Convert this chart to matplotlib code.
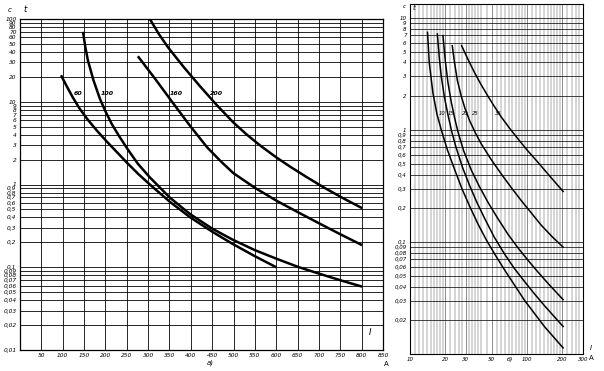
import numpy as np
import matplotlib
matplotlib.use("Agg")
import matplotlib.pyplot as plt
from matplotlib.ticker import NullLocator, NullFormatter

# --- chart a): linear current axis (A), log time axis (s) ---
cur_a_60 = [96, 110, 124, 140, 159, 180, 204, 228, 251, 277, 304, 351, 398, 450, 499, 550, 600]
t_a_60 = [20.9, 15.2, 11.2, 8.2, 6.04, 4.48, 3.27, 2.43, 1.82, 1.34, 1.0, 0.617, 0.403,
          0.269, 0.19, 0.136, 0.10]

cur_a_100 = [147.5, 153, 159, 172, 187, 200, 215, 232, 251, 276, 304, 351, 398, 450, 499,
             550, 600, 651, 700, 752, 801]
t_a_100 = [70, 45.7, 31.6, 18.2, 10.9, 7.67, 5.37, 3.85, 2.72, 1.78, 1.22, 0.693, 0.44,
           0.293, 0.214, 0.161, 0.127, 0.101, 0.0838, 0.0692, 0.0583]

cur_a_160 = [276, 316, 356, 398, 438, 470, 499, 550, 602, 651, 695, 749, 801]
t_a_160 = [35.5, 19.05, 10.0, 5.13, 2.82, 1.91, 1.38, 0.912, 0.631, 0.462, 0.351, 0.252, 0.185]

cur_a_200 = [304, 325, 347, 384, 421, 460, 499, 530, 562, 600, 632, 670, 710, 755, 801]
t_a_200 = [100, 66, 45.2, 26.0, 15.5, 9.2, 5.66, 4.05, 2.97, 2.13, 1.65, 1.24, 0.93, 0.69, 0.518]

curves_a = [(cur_a_60, t_a_60), (cur_a_100, t_a_100), (cur_a_160, t_a_160), (cur_a_200, t_a_200)]
names_a = ["60", "100", "160", "200"]
label_x_a = [135, 205, 365, 460]

xticks_a = list(range(0, 851, 50))

# --- chart б): log current axis (A), log time axis (s) ---
cur_b1 = [14.1, 14.6, 15.7, 17.0, 18.5, 20.9, 24.1, 27.9, 32.4, 38.0, 44.9, 53.7, 64.4,
          95.3, 141, 205]
t_b1 = [7.55, 3.98, 2.13, 1.38, 1.0, 0.66, 0.44, 0.295, 0.207, 0.145, 0.104, 0.0759, 0.056,
        0.030, 0.0175, 0.0112]

cur_b2 = [17.1, 17.8, 18.5, 19.7, 21.1, 22.9, 24.8, 28.2, 32.4, 37.2, 43.4, 52.5, 64.4,
          77.6, 95.3, 114.8, 141, 205]
t_b2 = [7.3, 4.37, 2.99, 1.95, 1.36, 0.933, 0.692, 0.457, 0.316, 0.226, 0.162, 0.11, 0.0776,
        0.0582, 0.0442, 0.0347, 0.0269, 0.0174]

cur_b3 = [19.1, 20.0, 21.1, 22.5, 24.0, 25.7, 28.8, 33.4, 38.9, 46.3, 56.2, 68.7, 83.2,
          101.9, 123, 150.7, 205]
t_b3 = [7.05, 4.17, 2.63, 1.78, 1.29, 0.955, 0.646, 0.437, 0.316, 0.226, 0.162, 0.117,
        0.0891, 0.0684, 0.0543, 0.0427, 0.0302]

cur_b4 = [22.9, 24.0, 25.4, 27.4, 29.5, 32.4, 36.3, 40.6, 49.0, 60.3, 73.3, 89.1, 108.4,
          132.1, 164.1, 205]
t_b4 = [5.74, 3.98, 2.75, 2.0, 1.55, 1.2, 0.933, 0.75, 0.55, 0.403, 0.305, 0.234, 0.182,
        0.141, 0.111, 0.0891]

cur_b5 = [27.4, 30.9, 35.6, 40.7, 46.3, 52.5, 60.3, 70.8, 83.6, 100, 123.9, 158.5, 205]
t_b5 = [5.74, 4.37, 3.24, 2.51, 2.0, 1.62, 1.30, 1.035, 0.832, 0.661, 0.513, 0.38, 0.279]

curves_b = [(cur_b1, t_b1), (cur_b2, t_b2), (cur_b3, t_b3), (cur_b4, t_b4), (cur_b5, t_b5)]
names_b = ["10", "15", "20", "25", "35"]
label_x_b = [18.8, 22.6, 29.7, 36.1, 57]

xticks_b = [10, 20, 30, 50, 100, 200, 300]


def comma(v):
    return f"{v:g}".replace(".", ",")


plt.rcParams["font.family"] = ["DejaVu Sans"]
plt.rcParams["font.style"] = "italic"

W, H = 604, 371
fig = plt.figure(figsize=(W / 100, H / 100), dpi=100)
fig.patch.set_facecolor("white")


def px_axes(l, t, r, b):
    return fig.add_axes([l / W, 1 - b / H, (r - l) / W, (b - t) / H])


def ftext(x, y, s, **kw):
    fig.text(x / W, 1 - y / H, s, ha="center", va="center", **kw)


yvals = [k * 10.0 ** d for d in range(-2, 2) for k in range(1, 10)] + [100]

# chart a)
ax1 = px_axes(20, 19, 383, 350)
ax1.set_xlim(0, 850)
ax1.set_yscale("log")
ax1.set_ylim(0.01, 100)
ax1.set_xticks(xticks_a)
ax1.set_xticklabels([""] + [str(v) for v in xticks_a[1:]])
ax1.set_yticks(yvals)
ax1.set_yticklabels([comma(v) for v in yvals])
ax1.yaxis.set_minor_locator(NullLocator())
ax1.grid(True, color="k", lw=0.7, alpha=0.85)
ax1.tick_params(length=0, labelsize=4.2, pad=2.5)
for s in ax1.spines.values():
    s.set_linewidth(0.9)

for (x, y) in curves_a:
    ax1.plot(x, y, color="k", lw=1.8, solid_capstyle="butt", solid_joinstyle="round")
for name, lx in zip(names_a, label_x_a):
    ax1.text(lx, 11.8, name, fontsize=4.5, fontweight="bold", ha="center", va="bottom")

ax1.text(820, 0.0165, "I", fontsize=6, ha="center", va="center")
ftext(10, 10, "c", fontsize=5)
ftext(25, 10, "t", fontsize=6)
ftext(210, 363, "а)", fontsize=5)
ftext(386, 364, "A", fontsize=5, style="normal")

# chart б)
ax2 = px_axes(410, 4, 583, 354)
ax2.set_xscale("log")
ax2.set_yscale("log")
ax2.set_xlim(10, 300)
ax2.set_ylim(0.01, 13.3)
ax2.set_xticks(xticks_b)
ax2.set_xticklabels([str(v) for v in xticks_b])
fine = np.concatenate([np.arange(10, 20, 1), np.arange(20, 40, 2), np.arange(40, 100, 5),
                       np.arange(100, 200, 10), np.arange(200, 301, 20)])
ax2.set_xticks(fine, minor=True)
ax2.xaxis.set_minor_formatter(NullFormatter())
yv2 = [v for v in yvals if v <= 10]
ax2.set_yticks(yv2)
ax2.set_yticklabels([""] + [comma(v) for v in yv2[1:]])
ax2.yaxis.set_minor_locator(NullLocator())
ax2.grid(True, which="minor", axis="x", color="0.35", lw=0.35)
ax2.grid(True, which="major", axis="x", color="0.3", lw=0.45)
ax2.grid(True, which="major", axis="y", color="k", lw=0.6, alpha=0.85)
ax2.tick_params(which="both", length=0, labelsize=4.0, pad=2.5)
for s in ax2.spines.values():
    s.set_linewidth(0.8)

for (x, y) in curves_b:
    ax2.plot(x, y, color="k", lw=1.1, solid_capstyle="butt", solid_joinstyle="round")
for name, lx in zip(names_b, label_x_b):
    ax2.text(lx, 1.4, name, fontsize=3.8, ha="center", va="center")

ftext(404, 7, "c", fontsize=4)
ftext(414, 8, "t", fontsize=5)
ftext(510, 359, "б)", fontsize=4.5)
ftext(591, 348, "I", fontsize=5)
ftext(591, 358, "A", fontsize=5, style="normal")

fig.savefig("out.png", dpi=100, facecolor="white")
